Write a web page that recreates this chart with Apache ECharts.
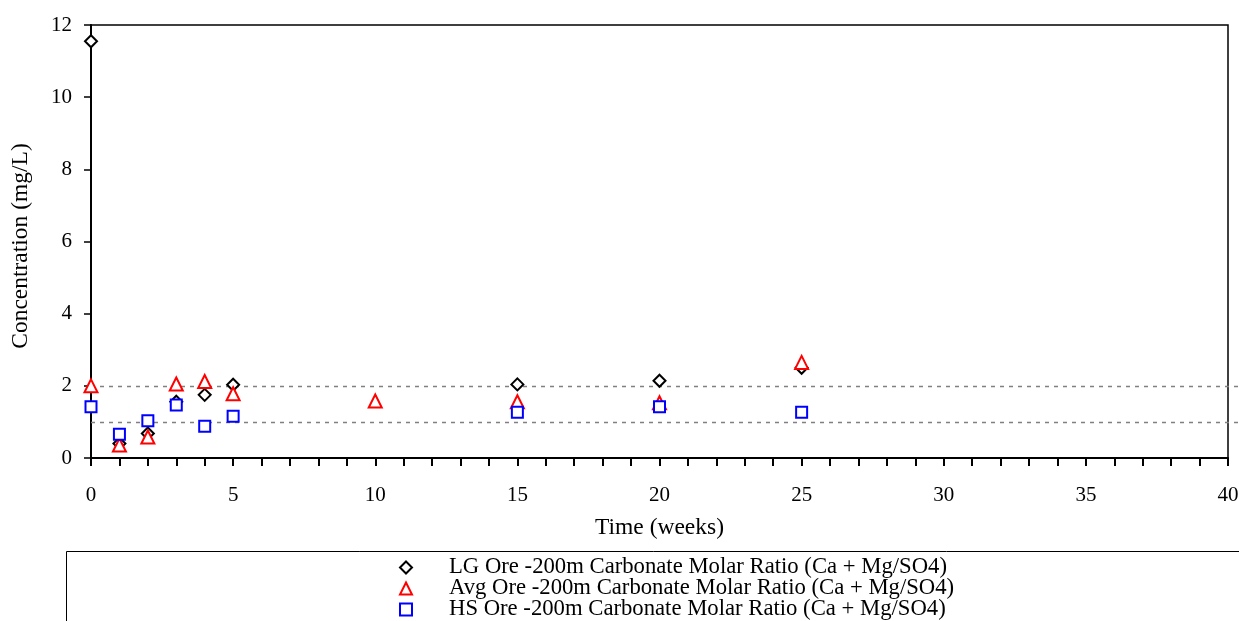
<!DOCTYPE html>
<html><head><meta charset="utf-8">
<script src="https://cdn.jsdelivr.net/npm/echarts@6/dist/echarts.min.js"></script>
<style>html,body{margin:0;padding:0;background:#fff}#c{width:1239px;height:621px}</style>
</head><body><div id="c"></div>
<script>
const weeksLG = [0, 1, 2, 3, 4, 5, 15, 20, 25];
const valuesLG = [11.55, 0.4, 0.68, 1.56, 1.75, 2.03, 2.04, 2.14, 2.5];
const weeksAvg = [0, 1, 2, 3, 4, 5, 10, 15, 20, 25];
const valuesAvg = [2.0, 0.36, 0.58, 2.05, 2.12, 1.78, 1.58, 1.56, 1.53, 2.65];
const weeksHS = [0, 1, 2, 3, 4, 5, 15, 20, 25];
const valuesHS = [1.42, 0.66, 1.03, 1.47, 0.88, 1.16, 1.27, 1.42, 1.27];
const guideValues = [1, 2];
const seriesNames = [
  'LG Ore -200m Carbonate Molar Ratio (Ca + Mg/SO4)',
  'Avg Ore -200m Carbonate Molar Ratio (Ca + Mg/SO4)',
  'HS Ore -200m Carbonate Molar Ratio (Ca + Mg/SO4)'
];
const xTitle = 'Time (weeks)';
const yTitle = 'Concentration (mg/L)';

const pair = (xs, ys) => xs.map((x, i) => [x, ys[i]]);
const font = 'Liberation Serif';

const chart = echarts.init(document.getElementById('c'), null, {renderer: 'canvas'});
const mk = (name, data, symbol, color, size) => ({
  name, type: 'scatter', data, symbol, symbolSize: size,
  itemStyle: {color: '#fff', borderColor: color, borderWidth: 2, opacity: 1},
  z: 5
});
chart.setOption({
  animation: false,
  backgroundColor: '#fff',
  textStyle: {fontFamily: font, color: '#000'},
  grid: {left: 91, right: 11, top: 25, bottom: 163, show: true, borderColor: '#000', borderWidth: 1.5,
    backgroundColor: 'transparent', containLabel: false, outerBoundsMode: 'none'},
  xAxis: {
    type: 'value', min: 0, max: 40, interval: 5,
    name: xTitle, nameLocation: 'middle', nameGap: 58,
    nameTextStyle: {fontFamily: font, fontSize: 23.5, color: '#000'},
    axisLine: {show: true, onZero: false, lineStyle: {color: '#000', width: 2}},
    axisTick: {show: true, inside: false, length: 8, lineStyle: {color: '#000', width: 2}},
    minorTick: {show: true, splitNumber: 5, length: 8, lineStyle: {color: '#000', width: 2}},
    axisLabel: {fontFamily: font, fontSize: 21, color: '#000', margin: 27},
    splitLine: {show: false}
  },
  yAxis: {
    type: 'value', min: 0, max: 12, interval: 2,
    name: yTitle, nameLocation: 'middle', nameGap: 58, nameRotate: 90,
    nameTextStyle: {fontFamily: font, fontSize: 23.5, color: '#000', padding: [0, 9, 0, 0]},
    axisLine: {show: true, lineStyle: {color: '#000', width: 2}},
    axisTick: {show: true, inside: false, length: 7, lineStyle: {color: '#000', width: 1.5}},
    axisLabel: {fontFamily: font, fontSize: 21, color: '#000', margin: 19},
    splitLine: {show: false}
  },
  legend: {
    orient: 'vertical', left: 399, top: 556, height: 100, itemGap: -2,
    itemWidth: 12, itemHeight: 12, padding: 0,
    textStyle: {fontFamily: font, fontSize: 22.7, color: '#000', padding: [0, 0, 0, 32]},
    data: seriesNames
  },
  series: [
    mk(seriesNames[0], pair(weeksLG, valuesLG), 'diamond', '#000', 12),
    mk(seriesNames[1], pair(weeksAvg, valuesAvg), 'triangle', '#ff0000', 13),
    mk(seriesNames[2], pair(weeksHS, valuesHS), 'rect', '#0000ff', 11)
  ]
});

const x0 = chart.convertToPixel({xAxisIndex: 0}, 0);
const g = guideValues.map(v => {
  const y = Math.round(chart.convertToPixel({yAxisIndex: 0}, v)) + 0.5;
  return {type: 'line', shape: {x1: x0, y1: y, x2: 1239, y2: y},
    style: {stroke: '#808080', lineWidth: 1.5, lineDash: [4, 5]}, z: 1, silent: true};
});
g.push({type: 'rect', shape: {x: 66.5, y: 551.5, width: 1200, height: 100},
  style: {fill: 'none', stroke: '#000', lineWidth: 1}, z: 0, silent: true});
chart.setOption({graphic: g});
</script></body></html>
